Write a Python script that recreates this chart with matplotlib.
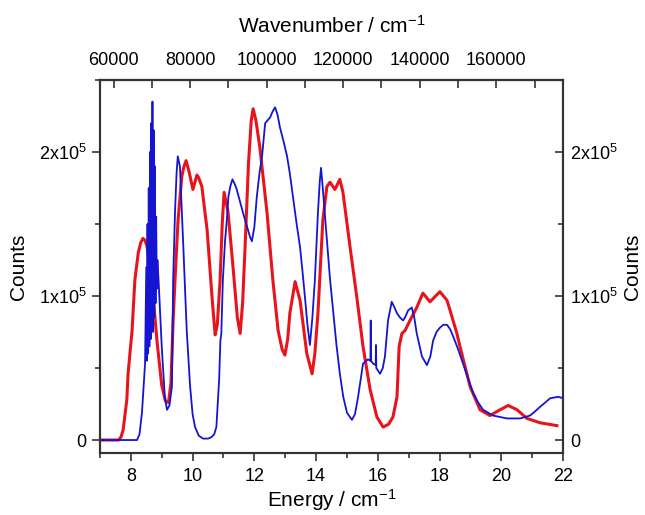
import numpy as np
import matplotlib.pyplot as plt
from matplotlib.ticker import FixedLocator, FixedFormatter, MultipleLocator

plt.rcParams['font.family'] = ['Liberation Sans', 'DejaVu Sans']
plt.rcParams['mathtext.fontset'] = 'custom'
plt.rcParams['mathtext.rm'] = 'Liberation Sans'
plt.rcParams['mathtext.it'] = 'Liberation Sans'

# red spectrum (energy, counts)
red_e = [7.0, 7.6, 7.68, 7.75, 7.87, 7.91, 8.04, 8.13, 8.24, 8.32, 8.39, 8.45, 8.52,
         8.62, 8.72, 8.85, 9.0, 9.12, 9.22, 9.3, 9.37, 9.43, 9.53, 9.65, 9.72, 9.79,
         9.9, 10.01, 10.14, 10.2, 10.3, 10.47, 10.63, 10.73, 10.8, 10.89, 10.96, 11.02,
         11.15, 11.31, 11.45, 11.54, 11.62, 11.70, 11.81, 11.9, 11.96, 12.05, 12.18,
         12.41, 12.60, 12.77, 12.9, 12.99, 13.08, 13.15, 13.32, 13.48, 13.70, 13.87,
         13.96, 14.06, 14.22, 14.35, 14.45, 14.61, 14.77, 14.87, 15.10, 15.32, 15.52,
         15.75, 15.97, 16.17, 16.35, 16.49, 16.62, 16.69, 16.78, 16.88, 17.04, 17.26,
         17.46, 17.69, 18.01, 18.24, 18.34, 18.56, 18.66, 18.99, 19.31, 19.63, 19.96,
         20.22, 20.51, 20.83, 21.25, 21.80]
red_c = [0, 0, 0.02, 0.07, 0.28, 0.46, 0.76, 1.11, 1.30, 1.37, 1.40, 1.39, 1.35,
         1.20, 1.00, 0.68, 0.38, 0.27, 0.26, 0.40, 0.83, 1.11, 1.53, 1.83, 1.90, 1.94,
         1.85, 1.74, 1.84, 1.82, 1.76, 1.46, 0.99, 0.73, 0.80, 1.11, 1.50, 1.72,
         1.58, 1.20, 0.85, 0.74, 0.95, 1.34, 1.92, 2.22, 2.30, 2.22, 2.03,
         1.58, 1.11, 0.76, 0.63, 0.59, 0.70, 0.88, 1.10, 0.97, 0.60, 0.46,
         0.60, 0.88, 1.53, 1.76, 1.79, 1.74, 1.81, 1.72, 1.34, 0.99, 0.65,
         0.35, 0.16, 0.09, 0.11, 0.16, 0.30, 0.65, 0.74, 0.76, 0.83, 0.92,
         1.02, 0.96, 1.03, 0.97, 0.90, 0.74, 0.65, 0.37, 0.21, 0.17, 0.21,
         0.24, 0.21, 0.15, 0.12, 0.10]

# blue spectrum (energy, counts)
blue_e = [7.0, 8.2, 8.28, 8.36, 8.46, 8.50, 8.52, 8.54, 8.56, 8.58, 8.60, 8.62, 8.64,
          8.66, 8.68, 8.70, 8.72, 8.74, 8.76, 8.78, 8.80, 8.82, 8.84, 8.86, 8.90, 9.0,
          9.1, 9.17, 9.25, 9.33, 9.37, 9.43, 9.48, 9.52, 9.59, 9.64, 9.70, 9.81, 9.92,
          10.0, 10.08, 10.2, 10.34, 10.5, 10.61, 10.7, 10.77, 10.86, 10.9, 10.93, 10.98,
          11.05, 11.11, 11.16, 11.22, 11.29, 11.36, 11.43, 11.53, 11.63, 11.75, 11.86,
          11.92, 12.0, 12.08, 12.17, 12.25, 12.35, 12.43, 12.51, 12.59, 12.67, 12.75,
          12.83, 12.95, 13.06, 13.15, 13.25, 13.37, 13.48, 13.56, 13.64, 13.72, 13.80,
          13.88, 13.96, 14.06, 14.12, 14.16, 14.22, 14.35, 14.45, 14.56, 14.66, 14.77,
          14.88, 15.0, 15.16, 15.26, 15.36, 15.45, 15.52, 15.68, 15.76, 15.77, 15.78,
          15.85, 15.93, 15.94, 15.95, 16.07, 16.16, 16.23, 16.33, 16.45, 16.54, 16.62,
          16.72, 16.82, 16.90, 16.98, 17.10, 17.18, 17.26, 17.43, 17.59, 17.70, 17.79,
          17.90, 18.01, 18.12, 18.24, 18.34, 18.44, 18.60, 18.76, 18.92, 19.08, 19.25,
          19.41, 19.73, 20.18, 20.61, 20.93, 21.1, 21.25, 21.42, 21.58, 21.84, 22.0]
blue_c = [0, 0, 0.04, 0.19, 0.53, 1.20, 0.55, 1.50, 0.60, 1.75, 0.65, 2.00, 0.70,
          2.20, 0.80, 2.35, 0.75, 2.15, 0.85, 1.90, 0.95, 1.55, 1.05, 1.25, 1.10, 0.65,
          0.30, 0.21, 0.24, 0.37, 1.11, 1.58, 1.85, 1.97, 1.90, 1.65, 1.34, 0.76, 0.37,
          0.18, 0.09, 0.03, 0.01, 0.01, 0.02, 0.04, 0.09, 0.42, 0.69, 0.74, 1.11,
          1.38, 1.53, 1.69, 1.76, 1.81, 1.78, 1.74, 1.66, 1.58, 1.49, 1.41,
          1.38, 1.48, 1.69, 1.86, 1.97, 2.20, 2.22, 2.24, 2.28, 2.31, 2.26,
          2.17, 2.07, 1.97, 1.85, 1.69, 1.50, 1.34, 1.17, 0.99, 0.80, 0.66,
          0.85, 1.11, 1.58, 1.80, 1.89, 1.74, 1.39, 1.12, 0.88, 0.66, 0.46,
          0.30, 0.19, 0.14, 0.18, 0.30, 0.43, 0.53, 0.56, 0.55, 0.83, 0.55,
          0.53, 0.52, 0.66, 0.50, 0.46, 0.50, 0.58, 0.83, 0.96, 0.92, 0.88,
          0.85, 0.83, 0.86, 0.90, 0.92, 0.85, 0.74, 0.58, 0.52, 0.58, 0.69,
          0.75, 0.78, 0.80, 0.80, 0.77, 0.72, 0.63, 0.53, 0.43, 0.33, 0.26,
          0.21, 0.17, 0.15, 0.15, 0.17, 0.20, 0.23, 0.26, 0.29, 0.30, 0.29]

ev_to_cm = 8065.54
wn_ticks = [60000, 80000, 100000, 120000, 140000, 160000]
y_ticks = [0, 1e5, 2e5]
y_labels = ['0', '1x10$^5$', '2x10$^5$']

fig = plt.figure(figsize=(6.45, 5.15), dpi=100)
ax = fig.add_axes([0.155, 0.1204, 0.718, 0.7243])

ax.plot(red_e, np.array(red_c) * 1e5, color='#e8141c', lw=2.2)
ax.plot(blue_e, np.array(blue_c) * 1e5, color='#1414d2', lw=1.3)

ax.set_xlim(7, 22)
ax.set_ylim(-9000, 250000)
ax.xaxis.set_major_locator(MultipleLocator(2))
ax.xaxis.set_minor_locator(MultipleLocator(1))
ax.yaxis.set_major_locator(FixedLocator(y_ticks))
ax.yaxis.set_major_formatter(FixedFormatter(y_labels))
ax.yaxis.set_minor_locator(MultipleLocator(5e4))
ax.tick_params(which='both', direction='out', labelsize=13, width=1.2, color='#333333')
ax.tick_params(which='major', length=6)
ax.tick_params(which='minor', length=3.5)
ax.tick_params(axis='x', pad=5)
ax.set_xlabel('Energy / cm$^{-1}$', fontsize=15, labelpad=1)
ax.set_ylabel('Counts', fontsize=15, labelpad=8)
for s in ax.spines.values():
    s.set_linewidth(1.5)
    s.set_color('#333333')

# right axis
ax2 = ax.twinx()
ax2.set_ylim(ax.get_ylim())
ax2.yaxis.set_major_locator(FixedLocator(y_ticks))
ax2.yaxis.set_major_formatter(FixedFormatter(y_labels))
ax2.yaxis.set_minor_locator(MultipleLocator(5e4))
ax2.tick_params(which='both', direction='in', labelsize=13, width=1.2, color='#333333')
ax2.tick_params(which='major', length=6, pad=5)
ax2.tick_params(which='minor', length=3.5)
ax2.set_ylabel('Counts', fontsize=15, rotation=90, labelpad=4)
for s in ax2.spines.values():
    s.set_linewidth(1.5)
    s.set_color('#333333')

# top axis in wavenumbers
top = ax.secondary_xaxis('top', functions=(lambda e: e * ev_to_cm, lambda w: w / ev_to_cm))
top.xaxis.set_major_locator(FixedLocator(wn_ticks))
top.xaxis.set_minor_locator(MultipleLocator(10000))
top.tick_params(which='both', direction='in', labelsize=13, width=1.2, color='#333333', pad=8)
top.tick_params(which='major', length=6)
top.tick_params(which='minor', length=6)
top.set_xlabel('Wavenumber / cm$^{-1}$', fontsize=15, labelpad=14)
top.spines['top'].set_linewidth(1.5)
top.spines['top'].set_color('#333333')

fig.savefig('out.png', dpi=100)
